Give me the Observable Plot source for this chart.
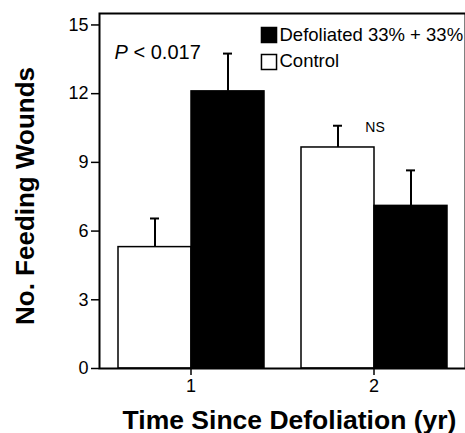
<!DOCTYPE html>
<html>
<head>
<meta charset="utf-8">
<script src="https://cdn.jsdelivr.net/npm/d3@7"></script>
<script src="https://cdn.jsdelivr.net/npm/@observablehq/plot@0.6"></script>
<style>
  html, body { margin: 0; padding: 0; background: #fff; }
  #chart svg { display: block; }
</style>
</head>
<body>
<div id="chart"></div>
<script>
// ---- data ----
const years = [1, 2];
const treatments = ["Control", "Defoliated 33% + 33%"];
const controlMeans = [5.3, 9.65];
const controlUpper = [6.55, 10.6];
const defoliatedMeans = [12.1, 7.1];
const defoliatedUpper = [13.75, 8.65];
const yTicks = [0, 3, 6, 9, 12, 15];
const fills = ["white", "black"];
const xTitle = "Time Since Defoliation (yr)";
const yTitle = "No. Feeding Wounds";
const sigLabels = ["P < 0.017", "NS"];

const rows = [];
years.forEach((yr, i) => {
  rows.push({year: yr, treatment: treatments[0], mean: controlMeans[i], upper: controlUpper[i]});
  rows.push({year: yr, treatment: treatments[1], mean: defoliatedMeans[i], upper: defoliatedUpper[i]});
});

const font = "'Liberation Sans', Arial, Helvetica, sans-serif";

const chart = Plot.plot({
  width: 465,
  height: 433,
  marginLeft: 98,
  marginRight: 0,
  marginTop: 13,
  marginBottom: 65,
  style: {fontFamily: font, color: "black", background: "white"},
  fx: {domain: years, padding: 0, label: null, axis: null},
  x: {domain: treatments, paddingInner: 0, paddingOuter: 0.24, axis: null},
  y: {domain: [0, 15.5], axis: null},
  color: {domain: treatments, range: fills},
  marks: [
    Plot.barY(rows, {fx: "year", x: "treatment", y: "mean", fill: "treatment", stroke: "black", strokeWidth: 1.5}),
    Plot.ruleX(rows, {fx: "year", x: "treatment", y1: "mean", y2: "upper", stroke: "black", strokeWidth: 2}),
    Plot.tickY(rows, {fx: "year", x: "treatment", y: "upper", stroke: "black", strokeWidth: 2, insetLeft: 32, insetRight: 32}),
    Plot.axisY({ticks: yTicks, tickSize: 8, tickPadding: 3, fontSize: 18, label: null, strokeWidth: 1.5}),
    Plot.axisFx({anchor: "bottom", tickSize: 7, tickPadding: 4, fontSize: 18, label: null, strokeWidth: 1.5}),
    Plot.frame({facet: "super", stroke: "black", strokeWidth: 2}),
    // axis titles
    Plot.text([xTitle], {facet: "super", text: d => d, frameAnchor: "bottom", dx: 7, dy: 60, fontSize: 26.5, fontWeight: "bold", textAnchor: "middle"}),
    Plot.text([yTitle], {facet: "super", text: d => d, frameAnchor: "left", rotate: -90, dx: -74, dy: 5, fontSize: 26, fontWeight: "bold", textAnchor: "middle"}),
    // significance annotations
    Plot.text(["P"], {facet: "super", text: d => d, frameAnchor: "top-left", lineAnchor: "middle", dx: 15, dy: 39.5, fontSize: 20, fontStyle: "italic", textAnchor: "start"}),
    Plot.text([sigLabels[0].slice(2)], {facet: "super", text: d => d, frameAnchor: "top-left", lineAnchor: "middle", dx: 34, dy: 39.5, fontSize: 20, textAnchor: "start"}),
    Plot.text([sigLabels[1]], {facet: "super", text: d => d, frameAnchor: "top-left", lineAnchor: "middle", dx: 275.5, dy: 114, fontSize: 14, textAnchor: "middle"}),
    // legend
    Plot.dot([treatments[1]], {facet: "super", frameAnchor: "top-left", dx: 169.5, dy: 21.5, r: 8.5, symbol: "square", fill: fills[1], stroke: "black", strokeWidth: 1.5}),
    Plot.dot([treatments[0]], {facet: "super", frameAnchor: "top-left", dx: 169.5, dy: 48.5, r: 8.5, symbol: "square", fill: fills[0], stroke: "black", strokeWidth: 1.5}),
    Plot.text([treatments[1]], {facet: "super", text: d => d, frameAnchor: "top-left", lineAnchor: "middle", dx: 180, dy: 21.5, fontSize: 18.5, textAnchor: "start"}),
    Plot.text([treatments[0]], {facet: "super", text: d => d, frameAnchor: "top-left", lineAnchor: "middle", dx: 180, dy: 48, fontSize: 18.5, textAnchor: "start"})
  ]
});
document.getElementById("chart").appendChild(chart);
</script>
</body>
</html>
